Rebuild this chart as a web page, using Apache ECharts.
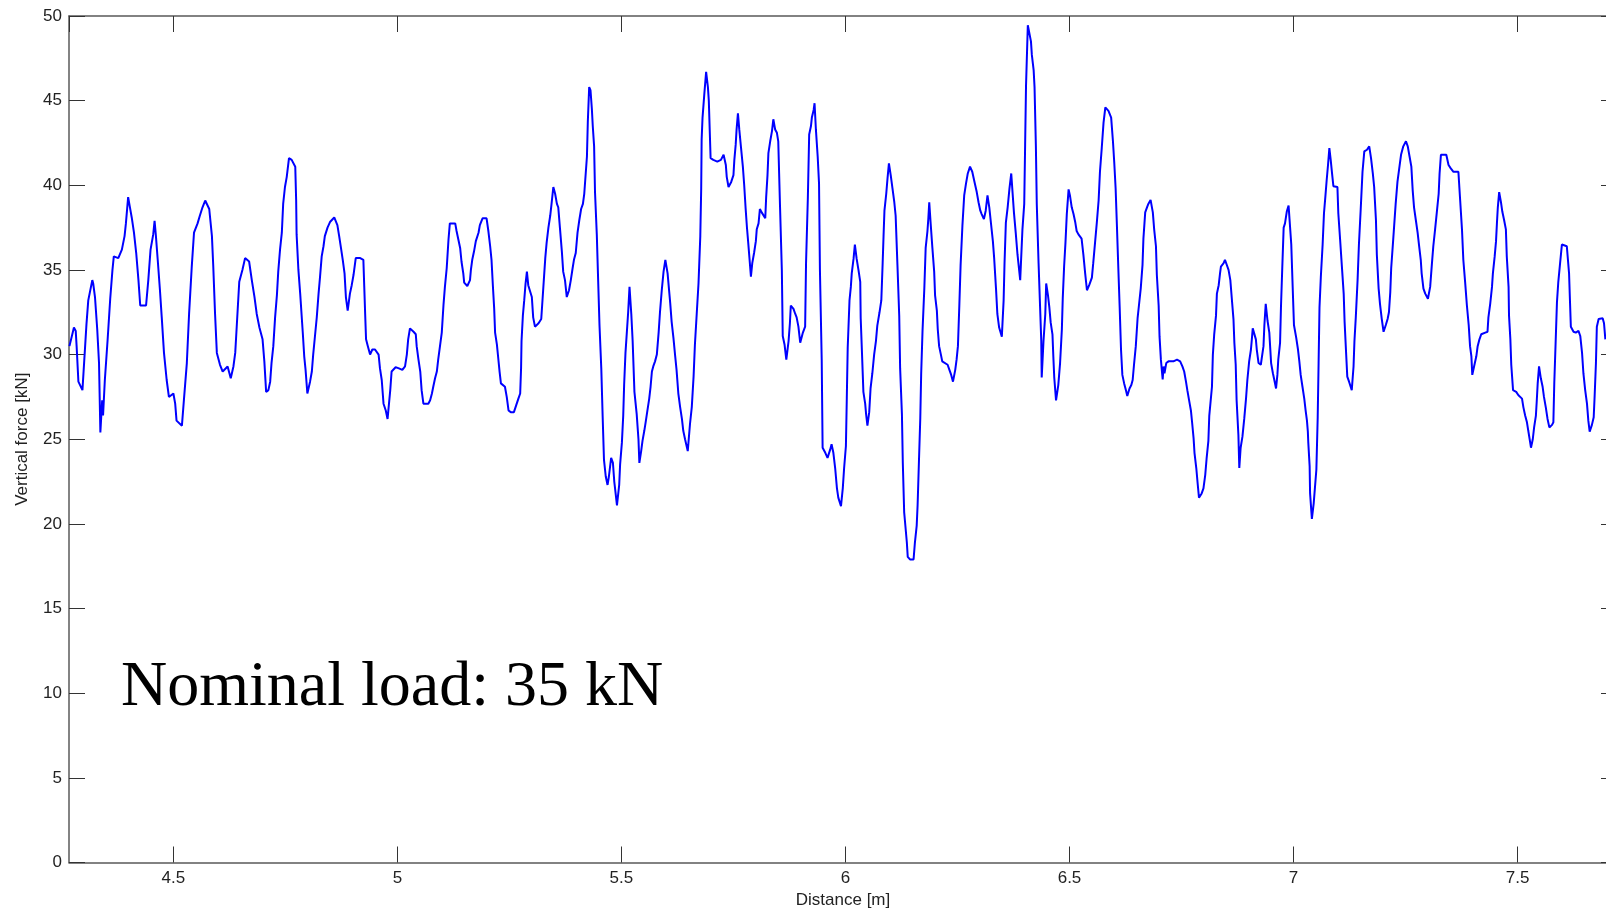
<!DOCTYPE html>
<html>
<head>
<meta charset="utf-8">
<title>Vertical force vs distance</title>
<script src="https://cdn.jsdelivr.net/npm/echarts@6/dist/echarts.min.js"></script>
<style>
  html, body { margin: 0; padding: 0; background: #ffffff; }
  #chart { width: 1606px; height: 910px; }
</style>
</head>
<body>
<div id="chart"></div>
<script>
// Measured vertical wheel force along the track (distance in m, force in kN)
const distance = [
  // 4.27 – 4.69 m
  4.268,4.278,4.282,4.284,4.288,4.297,4.300,4.306,4.310,4.319,
  4.321,4.325,4.330,4.334,4.337,4.341,4.343,4.347,4.353,4.359,
  4.364,4.367,4.377,4.385,4.391,4.394,4.399,4.403,4.407,4.412,
  4.417,4.422,4.426,4.439,4.444,4.449,4.455,4.458,4.461,4.465,
  4.470,4.474,4.479,4.485,4.490,4.500,4.504,4.507,4.519,4.524,
  4.530,4.535,4.541,4.546,4.554,4.559,4.565,4.571,4.580,4.586,
  4.589,4.593,4.597,4.604,4.610,4.621,4.628,4.634,4.638,4.641,
  4.647,4.654,4.660,4.669,4.675,4.681,4.686,4.692,
  // 4.70 – 5.12 m
  4.699,4.703,4.707,4.712,4.716,4.719,4.723,4.727,4.731,4.734,
  4.738,4.742,4.745,4.749,4.753,4.758,4.764,4.772,4.774,4.775,
  4.779,4.783,4.786,4.789,4.792,4.795,4.799,4.805,4.809,4.812,
  4.816,4.820,4.824,4.827,4.831,4.835,4.838,4.844,4.850,4.859,
  4.866,4.870,4.874,4.878,4.882,4.885,4.889,4.894,4.898,4.902,
  4.907,4.917,4.924,4.926,4.928,4.930,4.934,4.939,4.944,4.950,
  4.958,4.961,4.965,4.969,4.974,4.978,4.984,4.987,4.996,5.002,
  5.011,5.017,5.021,5.024,5.028,5.036,5.041,5.043,5.047,5.051,
  5.054,5.058,5.069,5.073,5.077,5.080,5.084,5.088,5.091,5.095,
  5.099,5.103,5.106,5.110,5.114,5.117,
  // 5.13 – 5.54 m
  5.129,5.132,5.136,5.140,5.143,5.147,5.149,5.156,5.162,5.164,
  5.167,5.171,5.175,5.181,5.184,5.190,5.199,5.203,5.207,5.210,
  5.213,5.216,5.218,5.222,5.225,5.228,5.231,5.240,5.244,5.248,
  5.253,5.260,5.265,5.270,5.274,5.276,5.277,5.280,5.283,5.286,
  5.289,5.292,5.296,5.300,5.303,5.307,5.315,5.321,5.324,5.327,
  5.330,5.333,5.337,5.341,5.344,5.348,5.352,5.356,5.359,5.363,
  5.367,5.370,5.374,5.378,5.383,5.387,5.391,5.394,5.398,5.402,
  5.406,5.410,5.414,5.417,5.420,5.423,5.425,5.428,5.431,5.434,
  5.436,5.439,5.441,5.445,5.448,5.451,5.455,5.458,5.461,5.465,
  5.469,5.472,5.477,5.481,5.484,5.487,5.490,5.495,5.497,5.501,
  5.504,5.506,5.509,5.512,5.515,5.518,5.522,5.525,5.529,5.534,5.538,
  // 5.54 – 5.96 m
  5.540,5.544,5.547,5.551,5.554,5.558,5.562,5.565,5.568,5.571,
  5.575,5.579,5.583,5.586,5.590,5.594,5.598,5.603,5.606,5.609,
  5.612,5.616,5.620,5.623,5.627,5.631,5.635,5.638,5.642,5.648,
  5.653,5.657,5.661,5.664,5.668,5.672,5.676,5.678,5.679,5.681,
  5.685,5.689,5.693,5.695,5.697,5.699,5.705,5.714,5.722,5.728,
  5.733,5.735,5.739,5.745,5.750,5.752,5.755,5.757,5.760,5.763,
  5.767,5.771,5.774,5.777,5.780,5.783,5.786,5.789,5.792,5.796,
  5.800,5.802,5.806,5.809,5.813,5.817,5.821,5.823,5.826,5.828,
  5.832,5.836,5.839,5.843,5.847,5.850,5.854,5.858,5.860,5.864,
  5.868,5.873,5.876,5.878,5.884,5.888,5.891,5.895,5.899,5.905,
  5.910,5.912,5.916,5.919,5.923,5.925,5.929,5.931,5.934,5.938,
  5.941,5.943,5.947,5.949,5.955,5.960,
  // 5.97 – 6.37 m
  5.966,5.969,5.973,5.977,5.981,5.984,5.990,5.994,5.997,6.001,
  6.003,6.005,6.009,6.012,6.014,6.018,6.021,6.025,6.029,6.033,
  6.034,6.037,6.040,6.044,6.046,6.049,6.053,6.056,6.060,6.064,
  6.068,6.071,6.076,6.080,6.083,6.085,6.087,6.091,6.094,6.097,
  6.101,6.105,6.109,6.112,6.116,6.120,6.122,6.126,6.128,6.131,
  6.134,6.137,6.139,6.144,6.152,6.155,6.159,6.161,6.164,6.167,
  6.169,6.172,6.176,6.179,6.183,6.185,6.187,6.190,6.194,6.198,
  6.200,6.204,6.206,6.209,6.213,6.216,6.220,6.228,6.232,6.236,
  6.240,6.245,6.248,6.251,6.254,6.257,6.261,6.265,6.269,6.273,
  6.278,6.283,6.288,6.293,6.297,6.301,6.304,6.309,6.313,6.317,
  6.321,6.325,6.329,6.332,6.336,6.339,6.343,6.349,6.353,6.355,
  6.358,6.362,6.366,6.370,
  // 6.38 – 6.81 m
  6.376,6.380,6.384,6.390,6.395,6.399,6.401,6.403,6.407,6.411,
  6.414,6.416,6.420,6.422,6.425,6.427,6.431,6.434,6.437,6.438,
  6.442,6.446,6.448,6.452,6.455,6.458,6.462,6.464,6.466,6.470,
  6.475,6.479,6.483,6.485,6.488,6.491,6.494,6.498,6.501,6.505,
  6.509,6.513,6.516,6.520,6.527,6.531,6.535,6.539,6.544,6.550,
  6.553,6.557,6.561,6.565,6.568,6.572,6.576,6.580,6.587,6.593,
  6.597,6.600,6.603,6.606,6.609,6.612,6.615,6.618,6.622,6.626,
  6.629,6.634,6.638,6.641,6.644,6.648,6.652,6.655,6.659,6.663,
  6.665,6.669,6.673,6.676,6.681,6.686,6.689,6.693,6.695,6.699,
  6.701,6.704,6.708,6.710,6.712,6.716,6.721,6.732,6.740,6.747,
  6.752,6.756,6.760,6.763,6.767,6.771,6.774,6.777,6.779,6.783,
  6.786,6.789,6.795,6.799,6.803,6.806,6.810,6.812,
  // 6.82 – 7.23 m
  6.818,6.820,6.823,6.827,6.829,6.833,6.836,6.838,6.844,6.847,
  6.851,6.855,6.859,6.862,6.866,6.868,6.871,6.873,6.877,6.879,
  6.882,6.886,6.890,6.894,6.897,6.901,6.905,6.907,6.909,6.913,
  6.916,6.918,6.922,6.927,6.931,6.933,6.935,6.938,6.942,6.946,
  6.948,6.950,6.954,6.958,6.961,6.964,6.966,6.970,6.972,6.975,
  6.978,6.981,6.985,6.989,6.992,6.995,6.998,7.001,7.006,7.010,
  7.013,7.016,7.020,7.024,7.027,7.030,7.032,7.033,7.036,7.037,
  7.041,7.045,7.048,7.051,7.054,7.056,7.058,7.061,7.065,7.068,
  7.071,7.074,7.077,7.080,7.083,7.086,7.089,7.098,7.100,7.104,
  7.108,7.112,7.114,7.117,7.120,7.124,7.130,7.134,7.136,7.139,
  7.143,7.146,7.150,7.154,7.158,7.164,7.169,7.173,7.177,7.180,
  7.184,7.186,7.190,7.193,7.197,7.201,7.206,7.210,7.213,7.216,
  7.218,7.222,7.225,7.228,7.232,
  // 7.24 – 7.70 m
  7.237,7.240,7.245,7.251,7.255,7.259,7.263,7.266,7.269,7.273,
  7.277,7.280,7.284,7.286,7.290,7.294,7.300,7.305,7.309,7.312,
  7.316,7.320,7.324,7.326,7.329,7.341,7.346,7.351,7.357,7.368,
  7.372,7.376,7.379,7.383,7.387,7.391,7.394,7.397,7.399,7.403,
  7.408,7.411,7.415,7.419,7.428,7.433,7.435,7.439,7.443,7.445,
  7.449,7.452,7.454,7.456,7.459,7.463,7.466,7.470,7.474,7.476,
  7.480,7.481,7.484,7.486,7.490,7.497,7.502,7.510,7.513,7.517,
  7.521,7.524,7.528,7.530,7.534,7.537,7.541,7.543,7.545,7.548,
  7.552,7.556,7.559,7.563,7.567,7.571,7.577,7.580,7.582,7.585,
  7.588,7.591,7.595,7.599,7.610,7.615,7.617,7.619,7.625,7.630,
  7.636,7.640,7.644,7.647,7.651,7.655,7.658,7.661,7.666,7.670,
  7.672,7.675,7.677,7.681,7.690,7.693,7.696
];

const force = [
  // 4.27 – 4.69 m
  30.5,31.6,31.4,30.5,28.4,27.9,29.2,31.8,33.2,34.4,
  34.2,33.4,31.5,29.5,25.4,27.3,26.4,28.5,30.8,33.3,
  35.0,35.8,35.7,36.2,37.0,37.75,39.3,38.7,38.1,37.2,
  36.0,34.4,32.9,32.9,34.4,36.2,37.1,37.9,37.0,35.6,
  33.8,32.2,30.1,28.5,27.5,27.7,27.1,26.1,25.8,27.5,
  29.5,32.4,35.2,37.2,37.75,38.2,38.7,39.1,38.6,37.0,
  35.2,32.4,30.1,29.4,29.0,29.3,28.6,29.3,30.1,31.5,
  34.3,35.0,35.7,35.5,34.4,33.4,32.4,31.6,
  // 4.70 – 5.12 m
  30.9,29.6,27.8,27.9,28.4,29.5,30.5,32.2,33.5,34.9,
  36.2,37.2,38.9,39.9,40.5,41.6,41.5,41.1,39.1,37.1,
  35.0,33.6,32.4,31.2,29.9,29.1,27.7,28.4,29.0,30.0,
  31.1,32.2,33.6,34.5,35.8,36.4,37.0,37.5,37.85,38.1,
  37.65,37.0,36.3,35.6,34.8,33.4,32.6,33.6,34.1,34.7,
  35.7,35.7,35.6,34.0,32.4,30.9,30.5,30.0,30.3,30.3,
  30.0,29.2,28.5,27.1,26.7,26.2,27.9,29.0,29.25,29.2,
  29.1,29.3,30.0,30.9,31.55,31.35,31.2,30.5,29.7,29.0,
  27.9,27.1,27.1,27.3,27.7,28.1,28.6,29.0,29.7,30.5,
  31.3,33.0,34.0,35.1,36.8,37.75,
  // 5.13 – 5.54 m
  37.75,37.3,36.8,36.3,35.5,34.8,34.25,34.05,34.4,35.0,
  35.6,36.1,36.7,37.2,37.65,38.05,38.05,37.3,36.4,35.6,
  34.1,32.7,31.3,30.6,29.8,29.0,28.3,28.1,27.5,26.7,
  26.6,26.6,27.0,27.4,27.7,29.2,30.8,32.3,33.2,34.2,
  34.9,34.1,34.0,33.4,32.2,31.65,31.85,32.1,33.3,34.5,
  35.7,36.6,37.5,38.2,38.9,39.9,39.5,38.9,38.7,37.4,
  36.1,34.9,34.4,33.4,33.8,34.4,35.1,35.6,36.0,37.2,
  37.95,38.6,38.9,39.5,39.6,41.7,43.8,45.8,45.6,44.5,
  43.5,42.3,39.6,37.1,34.4,31.75,29.2,26.4,23.8,22.8,
  22.3,22.8,23.9,23.6,22.5,21.8,21.1,22.3,23.5,24.8,
  26.4,28.2,30.1,31.3,32.5,34.0,32.4,30.8,27.8,26.5,25.0,
  // 5.54 – 5.96 m
  23.6,24.3,24.9,25.5,26.0,26.7,27.4,28.1,29.0,29.3,
  29.6,30.0,31.3,32.5,33.8,34.9,35.6,34.8,33.9,33.0,
  31.95,31.0,29.9,29.1,27.7,26.9,26.2,25.5,25.0,24.3,
  25.9,26.9,28.7,30.6,32.4,34.2,37.0,39.8,42.7,44.0,
  45.4,46.7,45.8,45.0,43.3,41.6,41.5,41.4,41.5,41.8,
  41.2,40.5,39.9,40.2,40.6,41.5,42.4,43.3,44.25,43.3,
  42.2,41.1,40.0,38.7,37.55,36.6,35.6,34.6,35.4,36.0,
  36.7,37.4,37.75,38.6,38.4,38.35,38.05,39.3,40.6,41.9,
  42.6,43.2,43.9,43.3,43.1,42.6,38.7,35.0,31.1,30.6,
  29.7,30.8,31.85,32.9,32.7,32.4,32.2,31.65,30.7,31.3,
  31.65,35.4,39.2,43.0,43.5,44.0,44.45,44.85,43.3,41.7,
  40.1,35.0,29.7,24.5,24.2,23.9,
  // 5.97 – 6.37 m
  24.4,24.7,24.2,23.3,22.1,21.55,21.05,22.1,23.3,24.6,
  27.45,30.4,33.2,34.0,34.8,35.65,36.5,35.65,35.0,34.3,
  32.15,30.0,27.8,27.1,26.5,25.8,26.6,28.0,28.9,30.0,
  30.8,31.7,32.5,33.2,35.4,37.0,38.5,39.5,40.45,41.3,
  40.6,39.8,39.0,38.2,35.3,32.3,29.2,26.5,23.6,20.7,
  19.8,18.9,18.05,17.9,17.9,18.9,19.9,21.1,23.7,26.25,
  28.9,31.4,33.9,36.3,37.3,38.05,39.0,37.8,36.3,34.9,
  33.5,32.6,31.5,30.5,30.0,29.6,29.5,29.4,29.1,28.8,
  28.4,29.1,29.7,30.5,32.8,35.3,37.6,39.4,40.1,40.7,
  41.1,40.8,40.2,39.6,39.0,38.5,38.3,38.0,38.5,39.4,
  38.7,37.7,36.7,35.65,33.9,32.4,31.6,31.06,33.2,35.4,
  37.8,38.7,39.8,40.7,
  // 6.38 – 6.81 m
  38.4,37.2,35.9,34.4,37.4,38.9,42.4,45.9,49.45,49.4,
  48.5,47.7,46.8,45.8,42.3,38.9,35.4,33.1,30.8,28.65,
  30.8,32.4,34.2,33.5,32.8,31.9,31.2,29.85,28.65,27.3,
  28.2,29.5,31.5,33.35,35.2,36.6,38.3,39.76,39.4,38.7,
  38.3,37.8,37.3,37.1,36.85,35.9,34.8,33.8,34.1,34.55,
  35.4,36.6,37.8,39.1,40.8,42.2,43.7,44.6,44.4,44.0,
  42.6,41.3,39.8,37.5,35.1,32.8,30.3,28.8,28.3,27.9,
  27.56,28.0,28.2,28.5,29.4,30.5,32.15,32.9,33.9,35.3,
  36.85,38.4,38.7,38.9,39.14,38.4,37.4,36.4,34.7,32.9,
  31.06,29.7,28.54,29.3,28.9,29.5,29.6,29.6,29.7,29.6,
  29.3,29.0,28.4,27.9,27.3,26.7,25.9,25.05,24.2,23.3,
  22.4,21.55,21.8,22.1,22.9,23.85,24.9,26.4,
  // 6.82 – 7.23 m
  28.1,30.0,31.2,32.3,33.6,34.1,34.8,35.2,35.4,35.6,
  35.5,35.0,34.4,33.4,32.1,30.7,29.4,27.3,25.25,23.3,
  24.5,25.15,26.2,27.4,28.5,29.6,30.3,30.9,31.55,31.45,
  30.9,30.3,29.5,29.4,29.3,30.5,31.75,33.0,32.0,31.3,
  30.4,29.5,28.9,28.4,28.0,28.8,29.7,30.7,32.8,35.2,
  37.5,37.75,38.45,38.8,38.9,36.5,34.1,31.75,31.0,30.3,
  29.6,28.8,28.1,27.4,26.7,26.1,25.45,24.8,23.4,21.8,
  20.3,21.2,22.2,23.2,26.3,29.5,32.8,34.6,36.5,38.35,
  39.3,40.3,41.2,42.2,41.5,40.7,39.95,39.9,38.35,36.8,
  35.2,33.6,31.95,30.3,28.7,28.4,27.9,29.3,30.8,32.2,
  34.4,36.5,38.6,40.8,42.0,42.1,42.3,41.6,40.7,39.9,
  37.95,35.9,33.9,33.0,32.1,31.35,31.75,32.1,32.5,33.7,
  35.1,36.6,37.75,38.9,40.2,
  // 7.24 – 7.70 m
  41.2,41.8,42.3,42.6,42.3,41.7,41.1,39.7,38.7,37.95,
  37.2,36.5,35.6,34.8,33.9,33.6,33.3,34.0,35.4,36.4,
  37.4,38.45,39.5,40.7,41.8,41.8,41.2,41.0,40.8,40.8,
  39.1,37.4,35.6,34.3,32.9,31.75,30.5,29.9,28.8,29.3,
  29.9,30.5,30.9,31.2,31.3,31.35,32.2,33.0,34.0,34.8,
  35.8,36.7,37.75,38.7,39.6,39.0,38.45,37.95,37.4,35.8,
  34.0,32.3,30.9,29.4,27.9,27.8,27.6,27.4,26.9,26.4,
  26.0,25.5,24.85,24.5,25.0,25.7,26.4,27.3,28.3,29.3,
  28.6,28.1,27.5,26.9,26.2,25.7,25.85,26.0,28.3,30.7,
  33.1,34.3,35.4,36.5,36.4,34.8,33.2,31.65,31.35,31.3,
  31.4,31.1,30.1,28.9,27.9,27.1,26.1,25.45,25.85,26.3,
  27.5,29.5,31.65,32.1,32.15,31.85,30.9
];

// Axis ranges and annotation
const distanceRange = [4.267, 7.722];
const forceRange = [0, 50];
const forceStep = 5;
const xAxisTitle = 'Distance [m]';
const yAxisTitle = 'Vertical force [kN]';
const noteText = 'Nominal load: 35 kN';

const n = Math.min(distance.length, force.length);
const points = [];
for (let i = 0; i < n; i++) points.push([distance[i], force[i]]);

const sansFont = '"Liberation Sans", Arial, Helvetica, sans-serif';
const frameLine = { show: true, onZero: false, lineStyle: { color: '#5a5a5a', width: 1.5 } };
const innerTicks = { show: true, inside: true, length: 16, lineStyle: { color: '#333333', width: 1 } };
const labelStyle = { fontFamily: sansFont, fontSize: 17, color: '#222222' };

const chart = echarts.init(document.getElementById('chart'), null, { renderer: 'canvas' });

chart.setOption({
  animation: false,
  backgroundColor: '#ffffff',
  grid: {
    left: 69, right: -11, top: 16, bottom: 47.5,
    containLabel: false,
    outerBoundsMode: 'none'
  },
  xAxis: [
    {
      type: 'value',
      position: 'bottom',
      min: distanceRange[0],
      max: distanceRange[1],
      splitNumber: 7,
      name: xAxisTitle,
      nameLocation: 'middle',
      nameGap: 25,
      nameTextStyle: labelStyle,
      axisLine: frameLine,
      axisTick: innerTicks,
      axisLabel: Object.assign({ margin: 7, showMinLabel: false, showMaxLabel: false }, labelStyle),
      splitLine: { show: false }
    },
    {
      type: 'value',
      position: 'top',
      min: distanceRange[0],
      max: distanceRange[1],
      splitNumber: 7,
      axisLine: frameLine,
      axisTick: innerTicks,
      axisLabel: { show: false },
      splitLine: { show: false }
    }
  ],
  yAxis: [
    {
      type: 'value',
      position: 'left',
      min: forceRange[0],
      max: forceRange[1],
      interval: forceStep,
      name: yAxisTitle,
      nameLocation: 'middle',
      nameGap: 38,
      nameTextStyle: labelStyle,
      axisLine: frameLine,
      axisTick: innerTicks,
      axisLabel: Object.assign({ margin: 7 }, labelStyle),
      splitLine: { show: false }
    },
    {
      type: 'value',
      position: 'right',
      min: forceRange[0],
      max: forceRange[1],
      interval: forceStep,
      axisLine: frameLine,
      axisTick: innerTicks,
      axisLabel: { show: false },
      splitLine: { show: false }
    }
  ],
  series: [
    {
      type: 'line',
      xAxisIndex: 0,
      yAxisIndex: 0,
      data: points,
      showSymbol: false,
      symbol: 'none',
      clip: true,
      lineStyle: { color: '#0000ff', width: 2 }
    }
  ],
  graphic: [
    {
      type: 'text',
      x: 121,
      y: 688,
      z: 10,
      style: {
        text: noteText,
        font: '64px "Liberation Serif", "Times New Roman", Times, serif',
        fill: '#000000',
        align: 'left',
        verticalAlign: 'middle'
      }
    }
  ]
});
</script>
</body>
</html>
